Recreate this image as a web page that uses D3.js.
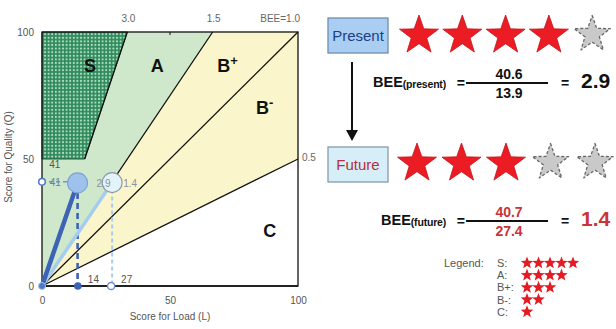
<!DOCTYPE html>
<html><head><meta charset="utf-8">
<script src="https://cdn.jsdelivr.net/npm/d3@7"></script>
<style>html,body{margin:0;padding:0;background:#fff;}svg{display:block;font-family:"Liberation Sans",Arial,sans-serif;}</style>
</head><body>
<svg id="c" width="616" height="329"></svg>
<script>
// ---- data ----
const bandSlopes = [3.0, 1.5, 1.0, 0.5];
const bandLabels = ["3.0", "1.5", "BEE=1.0", "0.5"];
const rankNames = ["S", "A", "B+", "B-", "C"];
const rankStars = [5, 4, 3, 2, 1];
const sQualityMin = 50;
const scenarioNames = ["Present", "Future"];
const scenarioSub = ["(present)", "(future)"];
const qScores = [40.6, 40.7];
const lScores = [13.9, 27.4];
const beeValues = [2.9, 1.4];
const starCounts = [4, 3];
const lRounded = [14, 27];
const qRounded = 41;
const axisTicks = [0, 50, 100];

// ---- layout ----
const svg = d3.select("#c");
const x = d3.scaleLinear().domain([0, 100]).range([42, 298]);
const y = d3.scaleLinear().domain([0, 100]).range([286, 32]);
const P = ([l, q]) => [x(l), y(q)];
const line = d3.line().x(d => x(d[0])).y(d => y(d[1]));

const defs = svg.append("defs");
const pat = defs.append("pattern").attr("id", "sdots").attr("patternUnits", "userSpaceOnUse")
  .attr("width", 3.6).attr("height", 3.6);
pat.append("rect").attr("width", 3.6).attr("height", 3.6).attr("fill", "#2f8a5c");
pat.append("circle").attr("cx", 1.8).attr("cy", 1.8).attr("r", 1.05).attr("fill", "#b5e2c4");

const sA = bandSlopes[1], sB = bandSlopes[3], sS = bandSlopes[0];
// regions
svg.append("path").attr("d", line([[0, 0], [100, sB * 100], [100, 100], [100 / sA, 100]]) + "Z").attr("fill", "#fbf5cb");
svg.append("path").attr("d", line([[0, 0], [100 / sA, 100], [0, 100]]) + "Z").attr("fill", "#cfe7cb");
svg.append("path").attr("d", line([[0, sQualityMin], [sQualityMin / sS, sQualityMin], [100 / sS, 100], [0, 100]]) + "Z")
  .attr("fill", "url(#sdots)").attr("stroke", "#1e5a3c").attr("stroke-width", 1);

// boundary lines
bandSlopes.forEach((s, i) => {
  const start = i === 0 ? [sQualityMin / s, sQualityMin] : [0, 0];
  const end = s >= 1 ? [100 / s, 100] : [100, 100 * s];
  svg.append("path").attr("d", line([start, end])).attr("stroke", "#111").attr("stroke-width", 1.3).attr("fill", "none");
  const t = svg.append("text").attr("font-size", 10).attr("fill", "#666");
  if (s >= 1) {
    t.attr("x", x(end[0]) + (s === 1 ? 2 : 1)).attr("y", 22).attr("text-anchor", s === 1 ? "end" : "middle");
  } else {
    t.attr("x", x(end[0]) + 4).attr("y", y(end[1]) + 2);
  }
  t.text(bandLabels[i]);
});

// frame
svg.append("rect").attr("x", x(0)).attr("y", y(100)).attr("width", x(100) - x(0)).attr("height", y(0) - y(100))
  .attr("fill", "none").attr("stroke", "#111").attr("stroke-width", 1.3);
svg.append("line").attr("x1", x(0)).attr("x2", x(100)).attr("y1", y(0)).attr("y2", y(0)).attr("stroke", "#222").attr("stroke-width", 2);
svg.append("line").attr("x1", x(50)).attr("x2", x(50)).attr("y1", y(100)).attr("y2", y(100) + 3).attr("stroke", "#111");

// axes
const gx = svg.append("g").attr("transform", `translate(0,${y(0)})`)
  .call(d3.axisBottom(x).tickValues(axisTicks).tickSize(0).tickPadding(11));
const gy = svg.append("g").attr("transform", `translate(${x(0)},0)`)
  .call(d3.axisLeft(y).tickValues(axisTicks).tickSize(0).tickPadding(8));
[gx, gy].forEach(g => {
  g.select(".domain").remove();
  g.selectAll("text").attr("font-size", 10).attr("fill", "#555").attr("font-family", "Liberation Sans, Arial, sans-serif");
});
svg.append("text").attr("x", x(50)).attr("y", 320).attr("text-anchor", "middle").attr("font-size", 10).attr("fill", "#555").text("Score for Load (L)");
svg.append("text").attr("transform", `translate(12,${y(50) - 2}) rotate(-90)`).attr("text-anchor", "middle")
  .attr("font-size", 10).attr("fill", "#555").text("Score for Quality (Q)");

// region labels
const regionAnchors = [[18.8, 87], [45, 87], [72.5, 87], [87, 70.5], [89, 22]];
rankNames.forEach((n, i) => {
  const [px, py] = P(regionAnchors[i]);
  const t = svg.append("text").attr("x", px).attr("y", py + 7).attr("text-anchor", "middle")
    .attr("font-size", 18).attr("font-weight", "bold").attr("fill", "#111");
  t.append("tspan").text(n[0]);
  if (n.length > 1) t.append("tspan").attr("font-size", 13).attr("dy", -7).text(n[1] === "-" ? "-" : "+");
});

// stray 41 label near S corner
svg.append("text").attr("x", x(2.8)).attr("y", y(sQualityMin) + 9).attr("font-size", 10).attr("fill", "#555").text(qRounded);

// scenario marks
const markColors = ["#3d63b6", "#a5cdef"];
const circleFill = ["#9ec2ec", "#e2f3f9"];
const circleStroke = ["#7aa2d8", "#8d9aa4"];
svg.append("line").attr("x1", x(0)).attr("x2", x(lScores[0])).attr("y1", y(qRounded)).attr("y2", y(qRounded))
  .attr("stroke", "#6f95d2").attr("stroke-width", 1.5).attr("stroke-dasharray", "4,3");
[1, 0].forEach(i => {
  svg.append("line").attr("x1", x(lScores[i])).attr("x2", x(lScores[i])).attr("y1", y(qScores[i])).attr("y2", y(0))
    .attr("stroke", markColors[i]).attr("stroke-width", i === 0 ? 2.6 : 2).attr("stroke-dasharray", i === 0 ? "6,4" : "4,3");
});
[1, 0].forEach(i => {
  svg.append("line").attr("x1", x(0)).attr("y1", y(0)).attr("x2", x(lScores[i])).attr("y2", y(qScores[i]))
    .attr("stroke", markColors[i]).attr("stroke-width", i === 0 ? 4.5 : 3.5).attr("stroke-linecap", "round");
});
[0, 1].forEach(i => {
  svg.append("circle").attr("cx", x(lScores[i])).attr("cy", y(qScores[i])).attr("r", 10)
    .attr("fill", circleFill[i]).attr("stroke", circleStroke[i]).attr("stroke-width", 1.2);
});
svg.append("circle").attr("cx", x(0)).attr("cy", y(qRounded)).attr("r", 3.3).attr("fill", "#fff").attr("stroke", "#4f77c4").attr("stroke-width", 1.5);
svg.append("circle").attr("cx", x(0)).attr("cy", y(0)).attr("r", 3.5).attr("fill", "#4f77c4").attr("stroke", "#9ec2ec").attr("stroke-width", 1);
svg.append("circle").attr("cx", x(lRounded[0])).attr("cy", y(0)).attr("r", 3.8).attr("fill", "#3d63b6");
svg.append("circle").attr("cx", x(lRounded[1])).attr("cy", y(0)).attr("r", 3.6).attr("fill", "#fff").attr("stroke", "#6a8fcc").attr("stroke-width", 1.5);
svg.append("text").attr("x", x(3)).attr("y", y(qRounded) + 4).attr("font-size", 10).attr("fill", "#6d7f9a").text(qRounded);
beeValues.forEach((v, i) => {
  svg.append("text").attr("x", x(lScores[i]) + 8 + (i === 0 ? 11 : 3)).attr("y", y(qScores[i]) + 4)
    .attr("font-size", 10).attr("fill", "#8a94a0").text(v.toFixed(1));
});
lRounded.forEach(v => {
  svg.append("text").attr("x", x(v) + 10).attr("y", y(0) - 3).attr("font-size", 10).attr("fill", "#555").text(v);
});

// ---- right panel ----
function starPts(cx, cy, R, ratio) {
  const pts = [];
  for (let k = 0; k < 10; k++) {
    const a = -Math.PI / 2 + k * Math.PI / 5;
    const r = k % 2 === 0 ? R : R * ratio;
    pts.push([cx + r * Math.cos(a), cy + r * Math.sin(a)]);
  }
  return "M" + pts.map(p => p.join(",")).join("L") + "Z";
}
const boxY = [18, 147];
const boxFill = ["#a9cef2", "#d6eef7"];
const boxStroke = ["#6f8db0", "#8a9aa8"];
const boxText = ["#1b3f85", "#b53040"];
const starX0 = [419, 417], starDx = [43.3, 44.5], starCy = [35.5, 163.5];
scenarioNames.forEach((n, i) => {
  svg.append("rect").attr("x", 328).attr("y", boxY[i]).attr("width", 60).attr("height", 35)
    .attr("fill", boxFill[i]).attr("stroke", boxStroke[i]).attr("stroke-width", 1.3);
  svg.append("text").attr("x", 358).attr("y", boxY[i] + 23).attr("text-anchor", "middle").attr("font-size", 15)
    .attr("fill", boxText[i]).text(n);
  d3.range(5).forEach(k => {
    const on = k < starCounts[i];
    const R = on ? 20.5 : 19;
    svg.append("path").attr("d", starPts(starX0[i] + k * starDx[i], starCy[i] + (on ? 0 : -1), R, 0.4))
      .attr("fill", on ? "#ec1c24" : "#c9c9c9")
      .attr("stroke", on ? "#c4141a" : "#666").attr("stroke-width", on ? 0.8 : 1.3)
      .attr("stroke-dasharray", on ? null : "3,2").attr("stroke-linejoin", "round");
  });
});
svg.append("line").attr("x1", 352).attr("x2", 352).attr("y1", 62).attr("y2", 132).attr("stroke", "#111").attr("stroke-width", 2);
svg.append("path").attr("d", "M346,130L358,130L352,141Z").attr("fill", "#111");

// formulas
const lineY = [83, 221];
const beeX = [373, 381];
const fColor = ["#111", "#c8343a"];
scenarioNames.forEach((n, i) => {
  const t = svg.append("text").attr("x", beeX[i]).attr("y", lineY[i] + 4).attr("font-size", 14.5).attr("font-weight", "bold").attr("fill", "#111");
  t.append("tspan").text("BEE");
  t.append("tspan").attr("font-size", 10.5).attr("dy", 1).attr("letter-spacing", -0.2).text(scenarioSub[i]);
  svg.append("text").attr("x", 465).attr("y", lineY[i] + 5).attr("text-anchor", "end").attr("font-size", 14).attr("font-weight", "bold").attr("fill", "#111").text("=");
  svg.append("line").attr("x1", 466).attr("x2", 548).attr("y1", lineY[i]).attr("y2", lineY[i]).attr("stroke", "#111").attr("stroke-width", 2.2);
  svg.append("text").attr("x", 509).attr("y", lineY[i] - 4).attr("text-anchor", "middle").attr("font-size", 14).attr("font-weight", "bold").attr("fill", fColor[i]).text(qScores[i].toFixed(1));
  svg.append("text").attr("x", 509).attr("y", lineY[i] + 15).attr("text-anchor", "middle").attr("font-size", 14).attr("font-weight", "bold").attr("fill", fColor[i]).text(lScores[i].toFixed(1));
  svg.append("text").attr("x", 565).attr("y", lineY[i] + 5).attr("text-anchor", "middle").attr("font-size", 14).attr("font-weight", "bold").attr("fill", "#111").text("=");
  svg.append("text").attr("x", 581).attr("y", lineY[i] + 5).attr("font-size", 21).attr("font-weight", "bold").attr("fill", fColor[i]).text(beeValues[i].toFixed(1));
});

// legend
svg.append("text").attr("x", 444).attr("y", 267).attr("font-size", 11).attr("fill", "#555").text("Legend:");
rankNames.forEach((n, i) => {
  const by = 267 + i * 12.2;
  const t = svg.append("text").attr("x", 497).attr("y", by).attr("font-size", 11).attr("fill", "#555").text(n + ":");
  const end = 497 + t.node().getComputedTextLength();
  const sx = Math.max(521, end + 1);
  d3.range(rankStars[i]).forEach(k => {
    svg.append("path").attr("d", starPts(sx + 6 + k * 11.5, by - 4, 6.6, 0.42)).attr("fill", "#e41b23");
  });
});
</script>
</body></html>
